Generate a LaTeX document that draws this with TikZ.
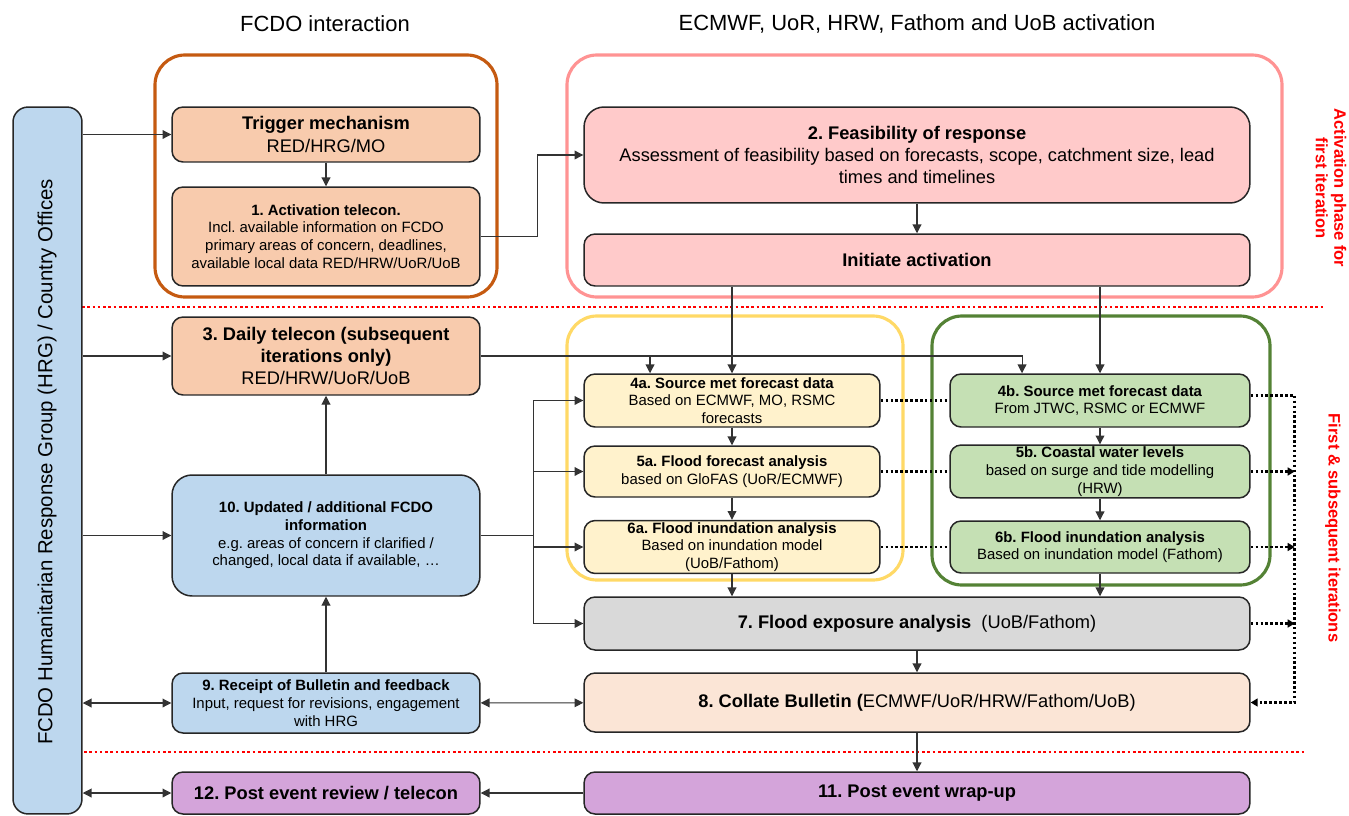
\documentclass[tikz,border=0pt]{standalone}
\usepackage{fontspec}
\setmainfont{Liberation Sans}
\usepackage{xcolor}
\usetikzlibrary{arrows.meta}
\frenchspacing

\definecolor{fcdoline}{HTML}{C55A11}
\definecolor{actline}{HTML}{FF9393}
\definecolor{yelline}{HTML}{FFD966}
\definecolor{grnline}{HTML}{548235}
\definecolor{peach}{HTML}{F8CBAD}
\definecolor{rose}{HTML}{FFCACA}
\definecolor{cream}{HTML}{FFF2CC}
\definecolor{leaf}{HTML}{C5E0B4}
\definecolor{stone}{HTML}{D9D9D9}
\definecolor{shell}{HTML}{FBE5D6}
\definecolor{lilac}{HTML}{D4A4DA}
\definecolor{sky}{HTML}{BDD7EE}

\begin{document}
\begin{tikzpicture}[x=0.02cm, y=-0.02cm,
    box/.style     = {draw=black!85, line width=0.85pt, rounded corners=0.22cm, align=center, inner sep=1pt},
    big/.style     = {font=\fontsize{10.4}{12.7}\selectfont},
    small/.style   = {font=\fontsize{8.5}{10.1}\selectfont},
    arr/.style     = {black!80, line width=0.6pt, -{Triangle[length=5pt,width=5pt]}},
    twoway/.style  = {black!80, line width=0.6pt, {Triangle[length=5pt,width=5pt]}-{Triangle[length=5pt,width=5pt]}},
    dotline/.style = {black, line width=1.4pt, dash pattern=on 1.4pt off 1.4pt},
    dotarr/.style  = {dotline, -{Triangle[length=4pt,width=4.5pt]}},
    redline/.style = {red, line width=1.5pt, dash pattern=on 1.5pt off 1.5pt},
    frame/.style   = {line width=1.8pt, rounded corners=0.6cm}]
        \useasboundingbox (0,0) rectangle (1349,815);
        % headings
        \node[font=\fontsize{12.5}{15}\selectfont] (hdfcdo) at (325,24)  {FCDO interaction};
        \node[font=\fontsize{12.5}{15}\selectfont] (hdpart) at (917,24)  {ECMWF, UoR, HRW, Fathom and UoB activation};
        % phase frames
        \draw[frame, draw=fcdoline] (155,55)  rectangle (497,297);     %FCDO
        \draw[frame, draw=actline]  (567,55)  rectangle (1282,297);    %activation
        \draw[frame, draw=yelline]  (567,316) rectangle (903,580);     %river
        \draw[frame, draw=grnline]  (932,316) rectangle (1270,585);    %coastal
        \draw[redline] (82,307) -- (1324,307);
        \draw[redline] (84,752) -- (1305,752);
        % left column
        \node[box, fill=sky, minimum width=1.38cm, minimum height=14.14cm, rounded corners=0.3cm] (hrg) at (47.5,460.5) {};
        \node[rotate=90, font=\fontsize{11.6}{14}\selectfont] (hrgtext) at (47,462) {FCDO Humanitarian Response Group (HRG) / Country Offices};
        \node[box, fill=peach, minimum width=6.16cm, minimum height=1.1cm, big] (trig) at (326,134.5)
            {\textbf{Trigger mechanism}\\RED/HRG/MO};
        \node[box, fill=peach, minimum width=6.16cm, minimum height=1.98cm, small] (act) at (326,236.5)
            {\textbf{1. Activation telecon.}\\Incl. available information on FCDO\\primary areas of concern, deadlines,\\available local data RED/HRW/UoR/UoB};
        \node[box, fill=peach, minimum width=6.16cm, minimum height=1.56cm, big] (daily) at (326,356)
            {\textbf{3. Daily telecon (subsequent}\\\textbf{iterations only)}\\RED/HRW/UoR/UoB};
        \node[box, fill=sky, minimum width=6.16cm, minimum height=2.42cm, small, rounded corners=0.4cm] (upd) at (326,535.5)
            {\textbf{10. Updated / additional FCDO}\\\textbf{information}\\e.g. areas of concern if clarified /\\changed, local data if available, …};
        \node[box, fill=sky, minimum width=6.16cm, minimum height=1.2cm, small] (rcpt) at (326,703)
            {\textbf{9. Receipt of Bulletin and feedback}\\Input, request for revisions, engagement\\with HRG};
        \node[box, fill=lilac, minimum width=6.16cm, minimum height=0.84cm, big] (rev) at (326,793)
            {\textbf{12. Post event review / telecon}};
        % activation
        \node[box, fill=rose, minimum width=13.32cm, minimum height=1.92cm, big, rounded corners=0.4cm] (feas) at (917,155)
            {\textbf{2. Feasibility of response}\\Assessment of feasibility based on forecasts, scope, catchment size, lead\\times and timelines};
        \node[box, fill=rose, minimum width=13.32cm, minimum height=1.04cm, big] (init) at (917,260)
            {\textbf{Initiate activation}};
        % river chain
        \node[box, fill=cream, minimum width=5.92cm, minimum height=1.06cm, small] (s4a) at (732,400.5)
            {\textbf{4a. Source met forecast data}\\Based on ECMWF, MO, RSMC\\forecasts};
        \node[box, fill=cream, minimum width=5.92cm, minimum height=1.02cm, small] (s5a) at (732,471.5)
            {\textbf{5a. Flood forecast analysis}\\based on GloFAS (UoR/ECMWF)};
        \node[box, fill=cream, minimum width=5.92cm, minimum height=1.04cm, small] (s6a) at (732,547)
            {\textbf{6a. Flood inundation analysis}\\Based on inundation model\\(UoB/Fathom)};
        % coastal chain
        \node[box, fill=leaf, minimum width=6cm, minimum height=1.06cm, small] (s4b) at (1100,400.5)
            {\textbf{4b. Source met forecast data}\\From JTWC, RSMC or ECMWF};
        \node[box, fill=leaf, minimum width=6cm, minimum height=1.02cm, small] (s5b) at (1100,471.5)
            {\textbf{5b. Coastal water levels}\\based on surge and tide modelling\\(HRW)};
        \node[box, fill=leaf, minimum width=6cm, minimum height=1.04cm, small] (s6b) at (1100,547)
            {\textbf{6b. Flood inundation analysis}\\Based on inundation model (Fathom)};
        % bulletin
        \node[box, fill=stone, minimum width=13.32cm, minimum height=1.06cm, big] (expo) at (917,623.5)
            {\textbf{7. Flood exposure analysis}\ \ (UoB/Fathom)};
        \node[box, fill=shell, minimum width=13.32cm, minimum height=1.18cm, big] (coll) at (917,702.5)
            {\textbf{8. Collate Bulletin (}ECMWF/UoR/HRW/Fathom/UoB)};
        \node[box, fill=lilac, minimum width=13.32cm, minimum height=0.84cm, big] (wrap) at (917,793)
            {\textbf{11. Post event wrap-up}};
        % side labels
        \node[rotate=-90, text=red, align=center, font=\bfseries\fontsize{9.4}{10.6}\selectfont] (lblact) at (1331,188)
            {Activation phase for\\first iteration};
        \node[rotate=-90, text=red, font=\bfseries\fontsize{9.4}{11}\selectfont] (lblrun) at (1333,528)
            {First \& subsequent iterations};
        % connectors
        \draw[arr]    (hrg.east |- trig)  -- (trig.west);
        \draw[arr]    (hrg.east |- daily) -- (daily.west);
        \draw[arr]    (hrg.east |- upd)   -- (upd.west);
        \draw[twoway] (hrg.east |- rcpt)  -- (rcpt.west);
        \draw[twoway] (hrg.east |- rev)   -- (rev.west);
        \draw[arr]    (trig) -- (act);
        \draw[arr]    (act.east) -- ++(57,0) |- (feas.west);
        \draw[arr]    (feas) -- (init);
        \draw[arr]    (init.south -| s4a) -- (s4a);
        \draw[arr]    (init.south -| s4b) -- (s4b);
        \coordinate (to4a) at ([xshift=-1.64cm]s4a.north);
        \coordinate (to4b) at ([xshift=-1.56cm]s4b.north);
        \draw[arr]    (daily.east) -| (to4b);
        \draw[arr]    (daily.east -| to4a) -- (to4a);
        \draw[arr]    (upd) -- (daily);
        \draw[arr]    (rcpt) -- (upd);
        \coordinate (bus) at ([xshift=1.06cm]upd.east);
        \draw[black!80, line width=0.6pt] (upd.east) -- (bus);
        \draw[arr]    (bus) |- (s4a.west);
        \draw[arr]    (bus) |- (s5a.west);
        \draw[arr]    (bus) |- (s6a.west);
        \draw[arr]    (bus) |- (expo.west);
        \draw[arr]    (s4a) -- (s5a);
        \draw[arr]    (s5a) -- (s6a);
        \draw[arr]    (s6a.south) -- (s6a.south |- expo.north);
        \draw[arr]    (s4b) -- (s5b);
        \draw[arr]    (s5b) -- (s6b);
        \draw[arr]    (s6b.south) -- (s6b.south |- expo.north);
        \draw[arr]    (expo) -- (coll);
        \draw[arr]    (coll) -- (wrap);
        \draw[twoway] (rcpt) -- (coll);
        \draw[arr]    (wrap) -- (rev);
        % dotted hand-over
        \draw[dotline] (s4a) -- (s4b);
        \draw[dotline] (s5a) -- (s5b);
        \draw[dotline] (s6a) -- (s6b);
        \coordinate (rail) at ([xshift=0.88cm, yshift=0.1cm]s4b.east);
        \draw[dotarr] ([yshift=0.1cm]s4b.east) -- (rail) |- (coll.east);
        \draw[dotarr] (s5b.east) -- (s5b.east -| rail);
        \draw[dotarr] (s6b.east) -- (s6b.east -| rail);
        \draw[dotarr] (expo.east) -- (expo.east -| rail);
\end{tikzpicture}
\end{document}
